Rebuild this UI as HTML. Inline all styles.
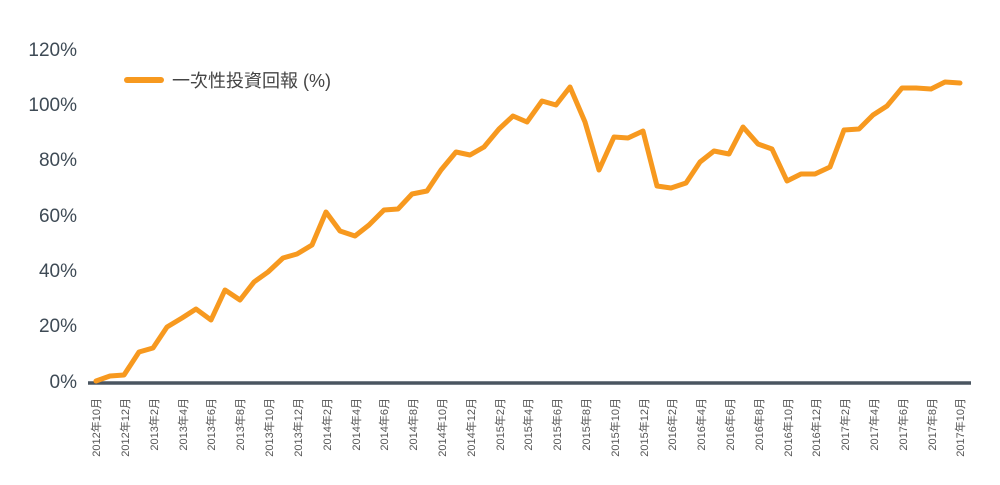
<!DOCTYPE html>
<html><head><meta charset="utf-8"><style>body{margin:0;background:#fff}</style></head><body>
<svg width="1000" height="480" xmlns="http://www.w3.org/2000/svg" font-family="Liberation Sans, Noto Sans CJK TC, sans-serif">
<g fill="#3e4a55" font-size="19" text-anchor="end">
<text x="77" y="56">120%</text><text x="77" y="111">100%</text><text x="77" y="166">80%</text><text x="77" y="222">60%</text><text x="77" y="277">40%</text><text x="77" y="332">20%</text><text x="77" y="388">0%</text>
</g>
<line x1="88" y1="383" x2="971" y2="383" stroke="#4a5560" stroke-width="3.5"/>
<polyline fill="none" stroke="#f7991f" stroke-width="5" stroke-linejoin="round" stroke-linecap="round" points="96,381 110,376 124,375 139,352 153,348 167,327 182,318 196,309 211,320 225,290 240,300 254,282 268,272 283,258 297,254 312,245 326,212 340,231 355,236 369,225 384,210 398,209 412,194 427,191 441,170 456,152 470,155 484,147 499,129 513,116 527,122 542,101 556,105 570,87 585,122 599,170 614,137 628,138 643,131 657,186 671,188 686,183 700,162 714,151 729,154 743,127 758,144 772,149 787,181 801,174 815,174 830,167 844,130 859,129 873,115 887,106 902,88 916,88 931,89 945,82 960,83"/>
<line x1="127" y1="80" x2="161" y2="80" stroke="#f7991f" stroke-width="6" stroke-linecap="round"/>
<text x="172" y="87" font-size="18" fill="#444">一次性投資回報 (%)</text>
<g fill="#555" font-size="11" text-anchor="end">
<text transform="translate(100,398) rotate(-90)">2012年10月</text>
<text transform="translate(129,398) rotate(-90)">2012年12月</text>
<text transform="translate(158,398) rotate(-90)">2013年2月</text>
<text transform="translate(187,398) rotate(-90)">2013年4月</text>
<text transform="translate(215,398) rotate(-90)">2013年6月</text>
<text transform="translate(244,398) rotate(-90)">2013年8月</text>
<text transform="translate(273,398) rotate(-90)">2013年10月</text>
<text transform="translate(302,398) rotate(-90)">2013年12月</text>
<text transform="translate(331,398) rotate(-90)">2014年2月</text>
<text transform="translate(360,398) rotate(-90)">2014年4月</text>
<text transform="translate(388,398) rotate(-90)">2014年6月</text>
<text transform="translate(417,398) rotate(-90)">2014年8月</text>
<text transform="translate(446,398) rotate(-90)">2014年10月</text>
<text transform="translate(475,398) rotate(-90)">2014年12月</text>
<text transform="translate(504,398) rotate(-90)">2015年2月</text>
<text transform="translate(532,398) rotate(-90)">2015年4月</text>
<text transform="translate(561,398) rotate(-90)">2015年6月</text>
<text transform="translate(590,398) rotate(-90)">2015年8月</text>
<text transform="translate(619,398) rotate(-90)">2015年10月</text>
<text transform="translate(648,398) rotate(-90)">2015年12月</text>
<text transform="translate(676,398) rotate(-90)">2016年2月</text>
<text transform="translate(705,398) rotate(-90)">2016年4月</text>
<text transform="translate(734,398) rotate(-90)">2016年6月</text>
<text transform="translate(763,398) rotate(-90)">2016年8月</text>
<text transform="translate(792,398) rotate(-90)">2016年10月</text>
<text transform="translate(820,398) rotate(-90)">2016年12月</text>
<text transform="translate(849,398) rotate(-90)">2017年2月</text>
<text transform="translate(878,398) rotate(-90)">2017年4月</text>
<text transform="translate(907,398) rotate(-90)">2017年6月</text>
<text transform="translate(936,398) rotate(-90)">2017年8月</text>
<text transform="translate(964,398) rotate(-90)">2017年10月</text>
</g>
</svg>
</body></html>
